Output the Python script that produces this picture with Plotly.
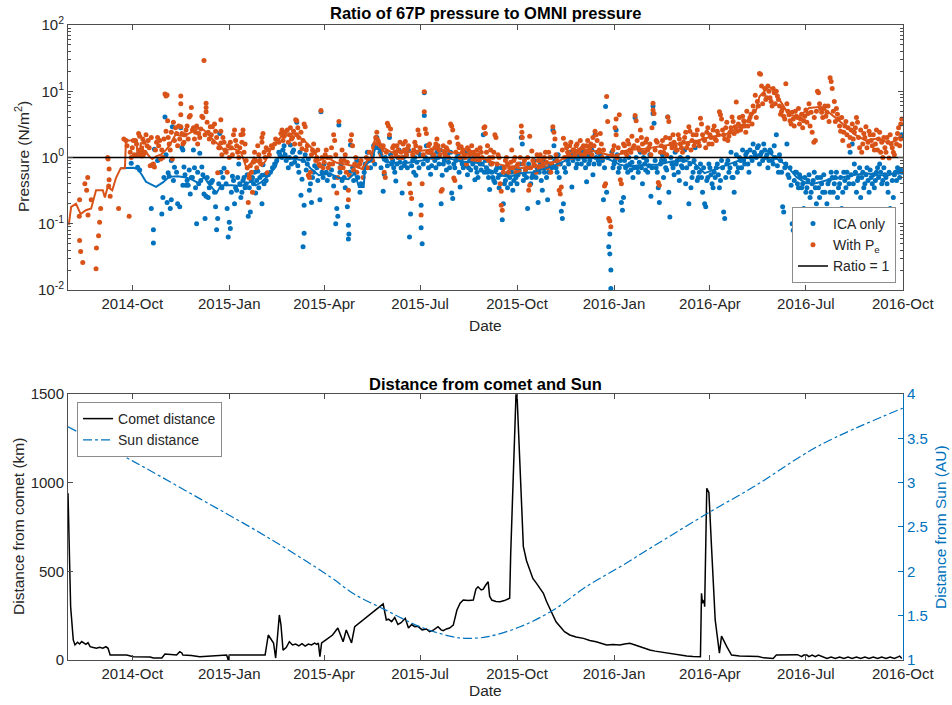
import pandas as pd
import plotly.graph_objects as go

# ---------------- data (days are counted from 2014-08-01) ----------------
START = pd.Timestamp("2014-08-01")
X_END = "2016-10-01 04:00"

ica_points = [
    (60,0.82),(66,1.1),(66,0.71),(68,0.65),(79,0.17),(81,0.081),(81,0.051),(82,1.33),(85,0.9),(89,0.14),
    (90,0.25),(92,4.1),(93,1.1),(94,0.21),(95,0.59),(96,0.52),(97,0.17),(98,0.9),(98,0.23),(99,2.9),
    (101,0.71),(104,0.20),(106,0.18),(107,2.8),(108,1.4),(109,1.3),(109,0.38),(110,0.72),(112,0.38),(114,0.38),
    (116,0.28),(117,0.5),(119,1.3),(120,0.7),(122,0.1),(124,0.4),(125,1.16),(127,0.72),(129,0.28),(130,0.12),
    (131,0.26),(133,0.25),(135,0.42),(136,0.42),(140,0.18),(141,0.081),(142,0.12),(144,2.3),(145,0.6),(148,0.69),
    (151,0.17),(152,0.063),(153,0.105),(154,0.085),(156,0.52),(158,0.2),(160,0.32),(162,0.8),(164,0.25),(166,0.45),
    (168,0.35),(171,0.13),(173,0.15),(175,0.5),(178,0.29),(180,0.62),(184,0.2),(184,0.54),(185,0.78),(188,0.45),
    (192,0.6),(196,0.8),(200,1.2),(203,1.0),(205,1.5),(207,0.9),(209,0.7),(211,1.55),(213,1.2),(215,0.85),
    (217,3.4),(219,0.6),(221,0.27),(222,0.47),(223,0.045),(224,0.072),(224,0.19),(225,1.1),(227,0.8),(229,0.32),
    (230,0.4),(231,0.21),(233,0.6),(236,0.7),(239,0.23),(240,4.9),(242,0.5),(245,0.6),(248,0.55),(252,0.37),
    (254,0.1),(255,0.17),(256,0.13),(257,3.1),(258,0.6),(260,0.45),(262,0.5),(265,0.18),(266,0.095),(266,0.059),
    (266.5,0.07),(268,1.55),(270,0.7),(272,0.6),(275,0.5),(278,0.4),(282,0.8),(285,0.9),(290,1.5),(293,2.0),
    (296,1.2),(299,0.31),(300,0.56),(302,0.9),(305,2.0),(307,0.8),(309,0.7),(311,0.44),(313,1.0),(315,0.85),
    (317,0.29),(319,0.76),(321,1.1),(324,0.063),(325,0.14),(327,0.9),(330,0.54),(332,1.2),(335,0.19),(335,0.087),
    (336,0.05),(338,9.5),(338,4.3),(340,1.5),(342,0.7),(344,0.56),(347,1.0),(350,1.2),(352,0.8),(354,0.2),
    (355,0.54),(357,0.9),(360,1.1),(362,0.7),(364,0.29),(365,0.24),(366,0.8),(369,1.0),(372,0.36),(374,0.8),
    (377,1.2),(380,0.7),(383,0.9),(386,0.46),(388,0.6),(391,0.8),(394,2.2),(396,0.9),(398,0.6),(400,0.33),
    (403,0.5),(405,0.42),(407,0.7),(410,0.55),(412,0.115),(413,0.2),(415,0.45),(418,0.6),(420,0.4),(422,0.32),
    (425,0.5),(428,0.65),(430,2.0),(431,1.6),(433,0.55),(436,0.17),(438,0.7),(440,0.5),(443,0.6),(446,0.21),
    (448,0.8),(450,0.32),(452,0.6),(455,0.23),(457,0.8),(460,2.6),(461,1.5),(463,0.7),(466,0.5),(468,0.155),
    (469,0.12),(470,0.2),(472,0.6),(474,0.9),(476,1.2),(478,0.36),(480,1.0),(483,0.8),(486,1.3),(489,1.0),
    (492,0.43),(494,0.8),(496,1.1),(498,0.55),(500,2.2),(503,0.9),(506,1.0),(508,0.23),(510,5.9),(511,0.3),
    (513,0.045),(514,0.035),(514,0.07),(515,0.02),(515,0.0105),(517,0.7),(519,0.9),(520,2.6),(522,0.6),(524,0.9),
    (525,0.21),(526,0.16),(527,0.25),(529,0.7),(531,0.6),(533,0.8),(536,0.5),(538,4.0),(540,0.7),(543,1.2),
    (545,0.4),(547,0.8),(550,0.6),(553,0.26),(555,6.0),(555,4.6),(556,3.3),(558,0.7),(560,0.35),(561,0.21),
    (563,0.9),(565,0.5),(567,0.7),(569,4.1),(570,0.3),(571,0.126),(573,0.8),(575,0.55),(578,0.9),(580,0.45),
    (583,0.7),(586,0.4),(589,0.2),(591,0.35),(593,0.6),(595,1.4),(598,0.5),(600,0.8),(602,0.3),(604,0.2),
    (605,0.18),(607,0.5),(609,0.7),(611,0.4),(613,0.6),(616,0.8),(618,0.35),(620,0.9),(622,0.15),(623,0.12),
    (625,0.8),(627,0.6),(629,1.2),(631,0.5),(632,0.3),(634,1.1),(636,0.7),(638,0.9),(640,1.3),(642,0.8),
    (644,1.2),(646,0.6),(648,1.0),(650,1.6),(652,1.1),(654,1.4),(656,0.8),(658,1.2),(660,1.6),(662,1.0),
    (664,0.7),(666,1.3),(668,0.9),(670,1.5),(672,2.2),(674,0.6),(676,0.9),(678,0.18),(679,0.15),(680,0.7),
    (682,1.6),(684,0.5),(686,0.38),(687,0.1),(688,0.08),(690,0.6),(692,0.4),(694,0.55),(696,0.35),(698,0.17),
    (700,0.3),(702,0.45),(704,0.25),(706,0.4),(708,0.6),(710,0.2),(712,0.35),(714,0.5),(716,0.3),(719,0.11),
    (720,0.2),(722,0.45),(724,0.6),(726,0.3),(728,0.5),(730,0.25),(732,0.4),(734,0.17),(736,0.6),(738,0.35),
    (740,0.5),(742,1.2),(744,1.6),(746,0.8),(748,0.3),(750,0.5),(752,0.25),(754,0.6),(756,0.4),(758,0.7),
    (760,0.3),(762,0.5),(765,0.35),(767,0.6),(770,0.8),(772,0.4),(775,0.55),(778,0.3),(780,0.17),(781,0.15),
    (783,0.25),(785,0.6),(787,0.7),(789,0.5),(791,2.2),(791,0.6),
    # dense cloud near the running mean
    (91,0.5),(100,0.45),(103,0.6),(111,0.55),(113,0.45),(115,0.65),(118,0.5),(121,0.35),(123,0.6),(126,0.45),
    (128,0.55),(132,0.5),(134,0.35),(137,0.45),(139,0.3),(143,0.4),(146,0.35),(147,0.5),(150,0.4),(155,0.3),
    (157,0.45),(159,0.35),(161,0.5),(163,0.4),(165,0.3),(167,0.5),(169,0.4),(170,0.55),(172,0.35),(174,0.45),
    (176,0.4),(177,0.6),(179,0.45),(181,0.35),(182,0.5),(186,0.4),(187,0.55),
    (190,0.55),(194,0.7),(198,0.9),(201,1.1),(204,1.3),(206,1.1),(210,1.0),(212,0.8),(214,1.3),(216,1.0),
    (218,0.75),(220,1.2),(223,0.9),(226,0.65),(228,0.95),(232,0.5),(234,0.75),(237,0.45),(241,0.6),(243,0.8),
    (246,0.45),(250,0.65),(253,0.5),(259,0.8),(263,0.35),(267,0.6),(271,0.45),(274,0.9),(277,0.3),(281,0.6),
    (284,1.2),(287,0.7),(289,1.1),(291,0.8),(294,1.4),(297,0.7),(301,1.0),(303,0.75),(306,1.1),(308,0.9),
    (310,0.6),(312,0.8),(314,1.3),(316,0.7),(318,1.0),(320,0.85),(322,0.7),(323,1.3),(326,0.75),(328,0.6),
    (329,1.0),(331,0.85),(333,0.7),(334,1.1),(337,0.8),(339,1.0),(341,0.9),(343,1.2),(345,0.75),(346,1.1),
    (348,0.9),(349,0.7),(351,1.0),(353,1.3),(356,0.8),(358,1.0),(359,0.65),(361,0.85),(363,1.2),(367,0.7),
    (368,0.9),(370,1.1),(371,0.6),(373,0.9),(375,0.7),(376,1.0),(378,0.75),(379,0.55),(381,0.9),(382,0.65),
    (384,0.8),(385,1.0),(387,0.7),(389,0.5),(390,0.9),(392,0.65),(393,0.8),(395,0.6),(397,0.7),(399,0.5),
    (401,0.8),(402,0.6),(404,0.45),(406,0.65),(408,0.5),(409,0.35),(411,0.7),(414,0.4),(416,0.55),(417,0.35),
    (419,0.5),(421,0.6),(423,0.45),(424,0.7),(426,0.4),(427,0.55),(429,0.8),(432,0.45),(434,0.65),(435,0.5),
    (437,0.8),(439,0.4),(441,0.55),(442,0.9),(444,0.5),(445,0.7),(447,0.6),(449,0.45),(451,0.9),(453,0.7),
    (454,0.5),(456,0.6),(458,1.0),(459,0.7),(462,0.9),(464,0.6),(465,1.1),(467,0.8),(471,0.7),(473,1.0),
    (475,0.8),(477,1.1),(479,0.9),(481,1.2),(482,0.7),(484,0.95),(485,1.1),(487,0.8),(488,1.2),(490,0.9),
    (491,0.7),(493,1.1),(495,0.9),(497,1.3),(499,0.8),(501,1.0),(502,1.2),(504,0.8),(505,1.1),(507,0.9),
    (509,0.7),(512,1.0),(516,1.2),(518,0.8),(521,1.1),(523,0.7),(528,0.9),(530,0.75),(532,1.0),(534,0.65),
    (535,0.85),(537,0.7),(539,1.0),(541,0.6),(542,0.85),(544,0.7),(546,1.0),(548,0.65),(549,0.9),(551,0.75),
    (552,1.1),(554,0.7),(557,0.9),(559,0.6),(562,0.8),(564,1.1),(566,0.9),(568,0.65),(572,1.0),(574,0.7),
    (576,1.2),(577,0.8),(579,0.6),(581,1.0),(582,0.75),(584,0.9),(585,1.3),(587,0.7),(588,1.0),(590,0.8),
    (592,0.5),(594,0.9),(596,0.7),(597,0.45),(599,0.6),(601,0.5),(603,0.7),(606,0.45),(608,0.8),(610,0.55),
    (612,0.35),(614,0.5),(615,0.7),(617,0.55),(619,0.45),(621,0.7),(624,0.5),(626,0.9),(628,0.7),(630,0.5),
    (633,0.8),(635,0.6),(637,1.0),(639,0.7),(641,0.9),(643,1.1),(645,0.8),(647,1.3),(649,0.9),(651,1.2),
    (653,1.0),(655,1.5),(657,1.1),(659,0.9),(661,1.3),(663,1.1),(665,0.9),(667,1.2),(669,0.8),(671,1.0),
    (673,0.75),(675,1.1),(677,0.6),(681,0.8),(683,0.55),(685,0.7),(689,0.45),(691,0.6),(693,0.35),(695,0.5),
    (697,0.4),(699,0.5),(701,0.35),(703,0.55),(705,0.3),(707,0.45),(709,0.35),(711,0.5),(713,0.25),(715,0.4),
    (717,0.55),(718,0.3),(721,0.4),(723,0.3),(725,0.5),(727,0.4),(729,0.6),(731,0.35),(733,0.5),(735,0.3),
    (737,0.45),(739,0.6),(741,0.4),(743,0.55),(745,0.4),(747,0.6),(749,0.45),(751,0.7),(753,0.5),(755,0.35),
    (757,0.55),(759,0.45),(761,0.65),(763,0.4),(764,0.55),(766,0.45),(768,0.7),(769,0.5),(771,0.6),(773,0.45),
    (774,0.7),(776,0.5),(777,0.4),(779,0.6),(782,0.45),(784,0.55),(786,0.45),(788,0.6),(790,0.65),
]

pe_points = [
    (10.7,0.13),(11,0.056),(11,0.23),(12,0.038),(14,0.026),(16,0.40),(17.7,0.32),(18.7,0.50),(19,0.135),(22,0.23),
    (26.6,0.021),(27,0.043),(29,0.066),(30,0.105),(31,0.17),(37.6,1.0),(38,0.95),(38.6,0.37),(39,0.67),(39,0.46),
    (40,0.26),(48,0.17),(53,1.9),(55,1.8),(58,0.13),(60,1.0),(62,1.8),(64,1.8),(67,2.3),(68,2.1),(70,1.05),
    (72,1.7),(75,1.5),(76,1.8),(78,0.75),(79,2.0),(80,0.78),(81,0.8),(82,0.72),(84,1.7),(85,2.0),(87,1.8),
    (88,0.95),(90,1.0),(92,9.1),(93,8.5),(94,8.8),(93,2.5),(94.5,3.6),(96,1.6),(99,0.95),(100,3.4),(102,2.8),
    (104,1.5),(105,3.0),(107,8.5),(107,6.5),(107,4.4),(107,2.9),(109,1.6),(111,2.2),(113,3.0),(115,4.1),(116,4.3),
    (117,5.7),(118,2.6),(120,1.9),(121,2.4),(123,1.6),(125,2.0),(127,4.2),(128,4.0),(129,29),(131,6.6),(131,5.7),
    (131,4.9),(133,2.4),(135,2.9),(137,2.9),(139,3.2),(140,2.5),(142,0.59),(143,1.4),(145,3.7),(145,2.5),(145,1.65),
    (147,2.0),(149,1.3),(151,0.6),(152,1.5),(154,1.7),(156,1.1),(157,2.2),(158,2.6),(159,1.8),(161,1.2),(163,1.4),
    (164,2.2),(166,2.25),(166,2.6),(168,1.6),(170,0.7),(172,0.49),(171,0.21),(172,0.55),(174,0.6),(175,0.3),
    (176,0.85),(178,0.9),(180,1.5),(182,0.9),(184,2.0),(184,1.7),(185,2.3),(186,1.2),(187,1.0),(189,0.59),(190,1.3),
    (193,1.5),(196,1.6),(199,1.8),(202,2.3),(205,2.1),(208,2.6),(210,2.2),(212,1.9),(214,2.5),(216,3.7),(217,3.6),
    (217,2.2),(218,2.8),(219,2.0),(220,1.6),(222,1.36),(224,3.2),(225,2.9),(226,1.3),(228,0.54),(229,0.5),(230,0.6),
    (232,1.3),(234,1.2),(236,1.0),(238,0.8),(240,5.1),(242,0.7),(244,1.1),(246,1.0),(248,0.8),(250,1.4),(252,2.2),
    (253,1.8),(255,0.29),(256,0.5),(257,3.5),(258,0.7),(260,1.3),(262,0.9),(264,0.6),(266,0.32),(266,0.23),
    (267,0.54),(268,1.8),(269,2.2),(270,1.5),(272,0.8),(274,0.6),(277,0.8),(280,0.5),(284,0.7),(287,0.95),(290,1.4),
    (292,2.0),(295,1.6),(298,1.3),(300,0.6),(301,0.5),(303,3.3),(304,3.0),(305,2.2),(306,2.7),(308,1.4),(310,1.2),
    (312,1.5),(314,1.0),(316,1.2),(318,1.6),(320,1.75),(322,1.35),(324,0.4),(325,0.29),(326,0.24),(328,1.3),
    (330,1.5),(332,2.6),(333,2.2),(335,0.135),(336,0.4),(337,1.1),(338,9.8),(338,4.9),(339,2.7),(340,2.3),(342,1.5),
    (344,1.2),(346,1.0),(348,1.4),(350,1.9),(351,1.5),(353,1.1),(354,0.31),(355,0.33),(357,1.2),(359,1.4),(361,1.0),
    (363,3.2),(364,3.0),(365,2.6),(366,0.49),(367,0.45),(369,2.0),(371,1.4),(373,1.45),(374,1.2),(376,1.1),(378,0.8),
    (380,1.3),(382,1.2),(384,0.9),(386,1.1),(388,1.3),(390,0.9),(392,1.2),(394.6,2.8),(395.5,2.9),(396,2.3),(398,1.5),
    (400,1.0),(402,0.8),(404,1.2),(405,2.2),(406,2.0),(408,1.1),(410,0.4),(411,0.31),(411,0.19),(412,0.16),(413,0.6),
    (415,0.9),(417,0.8),(419,0.7),(421,1.3),(423,0.9),(425,0.6),(427,0.8),(429,1.0),(430,3.0),(430.6,2.4),(431,2.0),
    (433,0.9),(435,0.7),(437,0.32),(438,2.1),(438,0.38),(440,1.25),(442,0.8),(444,0.6),(446,0.9),(448,1.1),(450,0.7),
    (452,1.0),(454,0.85),(456,1.2),(458,0.6),(460,2.9),(461,2.4),(462,1.9),(464,0.9),(466,0.32),(467,0.28),(468,0.36),
    (470,1.95),(472,1.6),(474,1.2),(476,1.5),(478,1.0),(480,1.3),(482,1.5),(484,1.2),(486,1.8),(488,1.4),(490,1.1),
    (492,1.5),(494,1.2),(496,1.6),(498,2.0),(500,2.5),(501,2.2),(502,1.8),(504,1.3),(505,2.3),(507,1.0),(509,0.37),
    (510,0.4),(511,8.3),(512,3.5),(513,0.12),(514,0.11),(515,0.09),(517,1.3),(519,2.8),(520,3.8),(520,2.2),(522,1.4),
    (523,4.4),(524,0.46),(525,0.4),(527,1.6),(529,1.2),(531,1.8),(533,1.3),(535,2.1),(537,1.5),(538,4.3),(539,3.6),
    (541,1.4),(543,2.6),(544,2.0),(546,1.2),(548,1.7),(550,1.3),(552,1.6),(554,2.8),(555,6.6),(555,5.2),(556,4.6),
    (558,1.8),(560,0.42),(561,0.38),(563,1.5),(565,1.2),(567,2.0),(569,4.1),(570,3.5),(571,1.95),(573,1.4),(575,1.7),
    (577,1.3),(579,2.2),(581,1.6),(583,1.2),(585,2.0),(587,1.4),(589,2.9),(590,2.5),(592,1.8),(594,1.5),(596,2.2),
    (598,1.7),(600,3.9),(601,3.2),(602,2.2),(604,1.8),(606,2.4),(608,1.6),(610,2.0),(612,2.6),(614,1.9),(616,2.5),
    (618,4.9),(619,4.4),(620,3.8),(622,2.2),(624,2.8),(626,1.8),(628,2.4),(630,4.1),(631,3.5),(633,2.9),(634,6.9),
    (636,3.2),(638,2.6),(640,4.2),(642,3.0),(644,5.0),(646,3.6),(648,4.5),(650,6.0),(652,8.7),(654,7.0),(656,18.6),
    (657,18),(658,12),(660,9.0),(662,7.5),(664,12),(665,10),(666,8.0),(668,6.0),(670,9.5),(672,10),(673,8.5),
    (675,6.0),(677,5.0),(679,4.2),(681,13),(682,6.5),(684,4.4),(686,3.2),(688,3.8),(690,5.0),(692,4.0),(694,3.2),
    (696,4.5),(698,3.6),(700,5.2),(702,4.6),(704,3.0),(706,2.4),(707.6,1.7),(709,1.8),(711,10),(712,9.5),(714,5.5),
    (716,4.0),(718,6.0),(720,4.8),(722,3.5),(723,16),(724,14),(725,11),(727,7.0),(729,5.5),(731,3.8),(733,2.5),
    (735,1.8),(737,3.0),(739,2.2),(741,1.5),(743,2.6),(745,1.9),(747,2.8),(748,4.0),(749,3.4),(751,1.4),(753,1.2),
    (755,2.3),(757,2.9),(759,1.7),(761,2.2),(763,1.5),(765,1.3),(767,2.6),(769,1.9),(771,1.2),(773,1.0),(775,1.4),
    (777,2.0),(779,0.98),(781,1.6),(783,1.2),(785,1.9),(787,2.3),(789,1.5),(790,3.2),(791,3.8),
    # dense cloud near the running mean
    (56,1.5),(59,1.2),(61,1.4),(63,1.1),(65,1.6),(69,1.3),(71,1.9),(73,1.2),(74,2.2),(77,1.4),(83,1.3),(86,1.5),
    (89,1.3),(91,1.9),(95,2.0),(97,1.3),(98,2.4),(101,1.8),(103,2.3),(106,1.9),(108,2.3),(110,1.7),(112,2.6),
    (114,1.9),(119,2.8),(122,3.0),(124,2.3),(126,2.7),(130,2.2),(132,3.4),(134,1.9),(136,2.2),(138,1.7),(141,2.0),
    (144,1.4),(146,1.1),(148,1.7),(150,1.2),(153,1.0),(155,1.4),(160,1.5),(162,1.0),(165,1.7),(167,1.2),(169,0.9),
    (173,0.75),(177,1.2),(179,0.7),(181,1.1),(183,0.8),(188,1.4),
    (191,1.1),(194,1.4),(197,1.9),(200,1.7),(203,2.6),(204,1.8),(206,2.4),(209,1.7),(211,2.8),(213,2.0),(215,1.6),
    (221,2.4),(223,1.8),(227,1.5),(231,1.1),(233,1.6),(235,0.9),(237,1.3),(239,0.75),(241,1.0),(243,0.85),(245,1.3),
    (247,0.7),(249,1.0),(251,0.8),(254,1.1),(259,0.9),(261,0.7),(263,1.1),(265,0.85),(271,0.65),(273,1.0),(275,0.75),
    (278,0.9),(281,0.7),(283,1.0),(286,1.2),(289,0.9),(291,1.6),(293,2.4),(294,1.8),(296,1.4),(297,1.1),(299,1.5),
    (302,1.2),(307,1.0),(309,1.5),(311,1.1),(313,1.3),(315,1.7),(317,1.0),(319,1.3),(321,1.1),(323,1.5),(327,1.1),
    (329,1.7),(331,1.2),(334,1.4),(341,1.2),(343,1.6),(345,1.3),(347,1.1),(349,1.6),(352,1.3),(356,1.5),(358,1.1),
    (360,1.3),(362,1.7),(368,1.2),(370,1.6),(372,1.0),(375,1.3),(377,1.0),(379,1.4),(381,1.1),(383,1.5),(385,1.2),
    (387,0.9),(389,1.1),(391,1.4),(393,1.0),(397,1.2),(399,0.9),(401,1.3),(403,1.0),(407,0.8),(409,1.0),(414,0.7),
    (416,1.0),(418,0.6),(420,0.85),(422,0.7),(424,1.0),(426,0.75),(428,0.6),(432,0.8),(434,0.65),(436,1.0),(439,0.7),
    (441,0.9),(443,0.75),(445,1.1),(447,0.7),(449,0.9),(451,0.8),(453,1.2),(455,0.7),(457,1.0),(459,0.8),(463,1.1),
    (465,0.8),(469,1.3),(471,1.0),(473,1.4),(475,1.1),(477,1.7),(479,1.3),(481,1.1),(483,1.6),(485,1.3),(487,1.1),
    (489,1.5),(491,1.2),(493,1.8),(495,1.4),(497,1.1),(499,1.5),(503,1.2),(506,1.6),(508,1.3),(516,1.1),(518,1.5),
    (521,1.0),(526,1.2),(528,1.5),
    (530,1.1),(532,1.6),(534,1.2),(536,1.4),(540,1.8),(542,1.3),(545,1.6),(547,1.2),(549,1.9),(551,1.4),(553,1.1),
    (557,1.3),(559,1.7),(562,1.2),(564,1.8),(566,1.4),(568,1.1),(572,1.6),(574,2.2),(576,1.5),(578,1.3),(580,1.9),
    (582,1.4),(584,1.7),(586,2.4),(588,1.6),(591,1.3),(593,2.2),(595,1.7),(597,2.6),(599,1.5),(603,1.9),(605,1.4),
    (607,2.8),(609,2.2),(611,1.6),(613,3.0),(615,1.8),(617,2.2),(621,2.6),(623,1.9),(625,3.4),(627,2.1),(629,2.8),
    (632,2.3),(635,2.5),(637,4.0),(639,2.9),(641,3.6),(643,2.4),(645,3.0),(647,4.0),(649,3.2),(651,5.0),(653,4.0),
    (655,6.0),(659,6.5),(661,11),(663,8.0),(667,7.0),(669,11),(671,6.5),(674,7.5),(676,4.5),(678,5.5),(680,3.8),
    (683,5.0),(685,3.6),(687,4.8),(689,3.0),(691,4.2),(693,5.5),(695,3.8),(697,2.8),(699,4.2),(701,3.4),(703,6.5),
    (705,4.8),(708,4.0),(710,5.0),(713,6.5),(715,4.8),(717,5.5),(719,4.2),(721,6.0),(726,5.0),(728,3.5),(730,4.5),
    (732,3.0),(734,4.0),(736,2.4),(738,3.5),(740,2.8),(742,2.0),(744,3.2),(746,2.4),(750,2.0),(752,2.6),(754,1.6),
    (756,2.0),(758,1.4),(760,2.5),(762,1.8),(764,2.2),(766,1.6),(768,1.3),(770,2.4),(772,1.7),(774,2.0),(776,1.2),
    (778,1.7),(780,2.2),(782,1.4),(784,1.1),(786,1.6),(788,2.8),(790,1.9),
]

pe_smooth = [
    (0.7,0.096),(3,0.18),(7.6,0.2),(12,0.14),(17,0.16),(22,0.17),(26.6,0.32),(33,0.32),(35,0.25),(37.6,0.36),
    (42,0.32),(45.5,0.49),(50,0.69),(54,0.69),(55,1.8),(65,1.8),(66,1.0),(67,1.4),(68,1.0),(69,1.7),(70,1.0),
    (71,1.5),(72,1.0),(74,1.2),(78,1.0),(80,0.95),(84,1.05),(88,1.1),(93,1.3),(96,1.5),(102,2.2),(110,2.1),
    (118,2.45),(124,2.8),(129,2.6),(138.5,1.8),(148,1.3),(157.5,1.35),(164,1.2),(170,0.65),(176.5,1.0),(180,0.85),
    (184,0.75),(187.5,0.9),(192,1.3),(202,2.05),(214,2.3),(224,1.8),(233,1.3),(238,0.9),(245.6,1.0),(255,0.83),
    (264,0.78),(270,0.75),(276,0.7),(279,0.67),(284,0.9),(288,1.0),(291.5,2.05),(294,2.0),(298,1.45),(307,1.2),
    (323,1.2),(338.6,1.3),(351.6,1.36),(364,1.2),(377,1.15),(386,1.1),(391,1.0),(400,0.9),(410,0.78),(419,0.73),
    (429,0.69),(441,0.73),(454,0.81),(467,0.9),(476,1.15),(486,1.36),(495,1.3),(508,1.15),(517,1.05),(525,1.15),
    (531,1.3),(547,1.36),(560,1.46),(572,1.55),(585,1.65),(597.6,1.8),(610,2.05),(623,2.2),(632,2.6),(642,3.3),
    (648,4.2),(653,5.3),(656,8.3),(659,9.4),(665,11.8),(670,10),(678,6.2),(684,4.4),(693.5,4.1),(703,5.6),
    (712,5.8),(719,5.2),(728,4.0),(738,2.9),(747,2.2),(757,1.8),(769,1.95),(779,1.65),(785,1.8),(791,2.2),
]

ica_smooth = [
    (50,0.69),(55,0.7),(62,0.7),(66,0.67),(70,0.55),(74,0.43),(78,0.4),(83.5,0.36),(90,0.42),(96,0.51),
    (104,0.52),(112,0.5),(118,0.46),(124,0.41),(129,0.51),(133,0.41),(141,0.29),(145,0.38),(155,0.38),(164,0.37),
    (173,0.43),(178,0.38),(183,0.42),(189,0.51),(197,0.72),(203,1.38),(208,0.97),(215,0.95),(224,0.9),(230,0.69),
    (238,0.54),(249,0.57),(257,0.49),(260,0.49),(266,0.47),(272,0.58),(276,0.36),(280.5,0.36),(282,0.78),(288,0.9),
    (292,1.46),(296,1.3),(299,0.9),(307,0.83),(323,0.83),(336,0.9),(348,1.0),(361,0.97),(374,0.87),(386,0.83),
    (391,0.82),(400,0.65),(410,0.54),(419,0.51),(429,0.58),(441,0.6),(454,0.69),(467,0.82),(476,0.97),(486,1.0),
    (498,0.97),(511,0.97),(523.6,0.78),(531,0.73),(547,0.78),(560,0.78),(572,0.87),(585,0.9),(594,0.82),(604,0.58),
    (616.5,0.69),(629,0.82),(642,0.97),(651,1.0),(662,1.3),(672,0.97),(681,0.78),(691,0.51),(700,0.41),(709.5,0.41),
    (719,0.45),(732,0.49),(744,0.54),(757,0.58),(769,0.54),(779,0.54),(785,0.6),(791,0.62),
]

comet_km = [
    (0,941),(1,677),(2.5,300),(5,113),(6.6,85),(9,100),(11,90),(13,104),(15,96),(17,88),(19,98),(21,75),(24,70),
    (27,67),(30,72),(33,67),(36,75),(38,66),(40,28),(48,28),(55.7,28),(62,19),(70,18),(78,17),(81,11),(89,11),
    (92,34),(97,30),(103,28),(106,47),(108,40),(109,28),(117,26),(125,19),(141,23),(150.5,28),(152,0),(153,28),
    (170,28),(187,28),(190,141),(195,96),(197,11),(200.5,254),(202,200),(204,56),(207,70),(210,103),(213,85),
    (216,90),(219,80),(222,92),(225,78),(228,90),(231,85),(234,95),(236,88),(237.5,96),(239,19),(240.6,96),
    (245,115),(251,141),(256,180),(261,103),(264,169),(269,96),(272,188),(299,316),(302,226),(304,230),(307,216),
    (310,240),(313,200),(316,210),(320,235),(323,180),(326,200),(329,188),(332,190),(336,170),(340,175),(343,160),
    (347,170),(351,188),(354,170),(356,165),(359,175),(362,180),(365.5,197),(369,282),(372,320),(375,338),(380,335),
    (384.5,338),(387,400),(389,413),(392,395),(394,400),(396,420),(398.6,441),(400,360),(402,338),(406,330),
    (410,329),(414,335),(419,348),(420,600),(422,1015),(425,1494),(426,1494),(429,1015),(432,639),(435,560),
    (438,508),(441,460),(444.5,432),(448,400),(451,376),(454,330),(457,291),(460,250),(463,215),(467,188),(471,160),
    (476,141),(482,130),(489,122),(495,110),(501,103),(506,95),(511,85),(517,88),(523.6,85),(528,90),(533,94),
    (538,85),(542.5,75),(547,65),(552,56),(557,50),(562,45),(571,38),(579,30),(587,23),(593,20),(599,19),(600,19),
    (601,376),(602,320),(603.5,338),(604,300),(606,968),(608,945),(610.5,639),(614,226),(618,38),(620,135),(625,75),
    (629.5,28),(637,23),(644,22),(650,17),(655,20),(660,12),(669,9),(672,28),(680,30),(688,28),(692,30),(696,19),
    (698,28),(701,28),(703,19),(706,28),(709,19),(712,28),(716,17),(720,9),(724,17),(728,9),(732,17),(736,9),
    (740,17),(744,9),(748,17),(752,9),(756,17),(760,9),(764,17),(768,9),(772,17),(776,9),(780,17),(784,9),
    (788,19),(789,22),(791,9),
]

sun_au = [
    (0,3.63),(62,3.24),(125,2.82),(188.5,2.39),(248.5,1.94),(270.6,1.75),(302,1.56),(334,1.375),(365.5,1.26),
    (377,1.245),(397,1.26),(429,1.375),(460,1.56),(492,1.83),(523.6,2.05),(555,2.28),(609,2.67),(650,2.95),
    (713,3.42),(792,3.84),
]

log_tick_vals = [0.01, 0.1, 1, 10, 100]
log_tick_text = ["10<sup>-2</sup>", "10<sup>-1</sup>", "10<sup>0</sup>", "10<sup>1</sup>", "10<sup>2</sup>"]
km_ticks = [0, 500, 1000, 1500]
au_ticks = [1, 1.5, 2, 2.5, 3, 3.5, 4]


def split(points):
    d = [START + pd.Timedelta(days=p[0]) for p in points]
    v = [p[1] for p in points]
    return d, v


BLUE = "#0072BD"
ORANGE = "#D95319"
INK = "#262626"
AXC = "#4d4d4d"
FONT = "Liberation Sans, Arial, Helvetica, sans-serif"
TICK_SIZE = 15

fig = go.Figure()

d, v = split(ica_points)
fig.add_trace(go.Scatter(x=d, y=v, mode="markers", name="ICA only",
                         marker=dict(color=BLUE, size=5), xaxis="x", yaxis="y", legend="legend"))
d, v = split(pe_points)
fig.add_trace(go.Scatter(x=d, y=v, mode="markers", name="With P<sub>e</sub>",
                         marker=dict(color=ORANGE, size=5), xaxis="x", yaxis="y", legend="legend"))
d, v = split(ica_smooth)
fig.add_trace(go.Scatter(x=d, y=v, mode="lines", line=dict(color=BLUE, width=2),
                         showlegend=False, xaxis="x", yaxis="y"))
d, v = split(pe_smooth)
fig.add_trace(go.Scatter(x=d, y=v, mode="lines", line=dict(color=ORANGE, width=2),
                         showlegend=False, xaxis="x", yaxis="y"))
fig.add_trace(go.Scatter(x=[START, pd.Timestamp(X_END)], y=[1, 1], mode="lines", name="Ratio = 1",
                         line=dict(color="black", width=1.5), xaxis="x", yaxis="y", legend="legend"))

d, v = split(comet_km)
fig.add_trace(go.Scatter(x=d, y=v, mode="lines", name="Comet distance",
                         line=dict(color="black", width=1.5), xaxis="x2", yaxis="y2", legend="legend2"))
d, v = split(sun_au)
fig.add_trace(go.Scatter(x=d, y=v, mode="lines", name="Sun distance", line_shape="spline",
                         line=dict(color=BLUE, width=1.2, dash="dashdot"), xaxis="x2", yaxis="y3",
                         legend="legend2"))

minor_vals = [m * 10 ** e for e in (-2, -1, 0, 1) for m in range(2, 10)]

xcommon = dict(type="date", range=[START, X_END], tick0="2014-10-01", dtick="M3", tickformat="%Y-%b",
               ticks="inside", ticklen=5, tickcolor=AXC, showline=True, linecolor=AXC, linewidth=1,
               mirror="ticks", showgrid=False, zeroline=False, automargin=False,
               tickfont=dict(size=TICK_SIZE, color=INK, family=FONT))

fig.update_layout(
    width=952, height=705,
    margin=dict(l=68, r=49, t=25, b=45),
    paper_bgcolor="white", plot_bgcolor="white",
    font=dict(family=FONT, color=INK, size=14),
    xaxis=dict(domain=[0, 1], anchor="y", **xcommon),
    yaxis=dict(domain=[0.5827, 1], anchor="x", type="log", range=[-2, 2],
               tickvals=log_tick_vals, ticktext=log_tick_text, automargin=False,
               ticks="inside", ticklen=5, tickcolor=AXC, showline=True, linecolor=AXC, mirror="ticks",
               showgrid=False, zeroline=False, tickfont=dict(size=TICK_SIZE, color=INK),
               minor=dict(tickvals=minor_vals, ticks="inside", ticklen=3, tickcolor=AXC)),
    xaxis2=dict(domain=[0, 1], anchor="y2", **xcommon),
    yaxis2=dict(domain=[0, 0.4189], anchor="x2", range=[0, 1500], tickvals=km_ticks, automargin=False,
                ticks="inside", ticklen=5, tickcolor=AXC, showline=True, linecolor=AXC,
                showgrid=False, zeroline=False, tickfont=dict(size=TICK_SIZE, color=INK)),
    yaxis3=dict(overlaying="y2", side="right", anchor="x2", range=[1, 4], tickvals=au_ticks, automargin=False,
                ticks="inside", ticklen=5, tickcolor=BLUE, showline=True, linecolor=BLUE,
                showgrid=False, zeroline=False, tickfont=dict(size=TICK_SIZE, color=BLUE)),
    legend=dict(x=0.9916, y=0.5937, xanchor="right", yanchor="bottom", bgcolor="white",
                bordercolor="#8c8c8c", borderwidth=1, font=dict(size=14, color=INK),
                tracegroupgap=0, itemwidth=30),
    legend2=dict(x=0.0108, y=0.4063, xanchor="left", yanchor="top", bgcolor="white",
                 bordercolor="#8c8c8c", borderwidth=1, font=dict(size=14, color=INK),
                 tracegroupgap=0, itemwidth=30),
    showlegend=True,
)

annotations = [
    dict(text="<b>Ratio of 67P pressure to OMNI pressure</b>", x=0.5, y=1.019, xref="paper", yref="paper",
         showarrow=False, font=dict(size=16.5, color="black"), xanchor="center", yanchor="middle"),
    dict(text="<b>Distance from comet and Sun</b>", x=0.5, y=0.4346, xref="paper", yref="paper",
         showarrow=False, font=dict(size=16.5, color="black"), xanchor="center", yanchor="middle"),
    dict(text="Date", x=0.5, y=(660 - 325) / 635, xref="paper", yref="paper", showarrow=False,
         font=dict(size=15.5, color=INK), xanchor="center", yanchor="middle"),
    dict(text="Date", x=0.5, y=(660 - 690) / 635, xref="paper", yref="paper", showarrow=False,
         font=dict(size=15.5, color=INK), xanchor="center", yanchor="middle"),
    dict(text="Pressure (N/m<sup>2</sup>)", x=(22 - 68) / 835, y=(660 - 157) / 635, xref="paper", yref="paper",
         showarrow=False, textangle=-90, font=dict(size=15.5, color=INK), xanchor="center", yanchor="middle"),
    dict(text="Distance from comet (km)", x=(18 - 68) / 835, y=(660 - 527) / 635, xref="paper", yref="paper",
         showarrow=False, textangle=-90, font=dict(size=15.5, color=INK), xanchor="center", yanchor="middle"),
    dict(text="Distance from Sun (AU)", x=(940 - 68) / 835, y=(660 - 527) / 635, xref="paper", yref="paper",
         showarrow=False, textangle=-90, font=dict(size=15.5, color=BLUE), xanchor="center", yanchor="middle"),
]
fig.update_layout(annotations=annotations)

# remove the page's default 8px body margin so the figure sits at the window's corner
fig.write_html("out.html", config={"displayModeBar": False},
               post_script="document.body.style.margin='0px';")
